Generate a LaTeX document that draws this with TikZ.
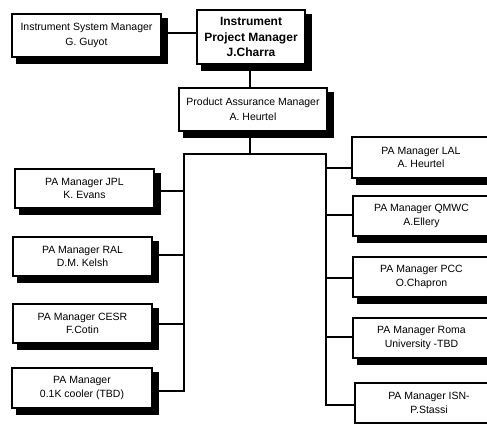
\documentclass[tikz,border=0pt]{standalone}
\usepackage{fontspec}
\setmainfont{Liberation Sans}
\usetikzlibrary{backgrounds}
\begin{document}
\begin{tikzpicture}[x=1pt,y=-1pt,
  box/.style={draw=black,line width=1.5pt,fill=white,inner sep=0pt,align=center,
    font=\fontsize{10.5}{13.5}\selectfont},
  widebox/.style={box,font=\fontsize{10.5}{15}\selectfont},
  boldbox/.style={box,font=\fontsize{12}{15.5}\selectfont\bfseries},
  shadowbox/.style={fill=black,draw=black,line width=1.5pt},
  link/.style={line width=1.6pt,line cap=rect}]
\useasboundingbox (0,0) rectangle (487,423);
\clip (0,0) rectangle (487,423);
% top row
\node[widebox,minimum width=149pt,minimum height=43pt] (ism) at (86.5,35.5) {Instrument System Manager\\G. Guyot};
\path (ism.north) ++(0,-1) coordinate (ismtop);
\node[boldbox,minimum width=108pt,minimum height=54pt] (ipm) at (251,37) {Instrument\\Project Manager\\J.Charra};
\node[widebox,minimum width=148pt,minimum height=43pt] (pam) at (253,109.5) {Product Assurance Manager\\A. Heurtel};
% left column
\node[box,minimum width=139pt,minimum height=39pt] (jpl) at (84.5,188.5) {PA Manager JPL\\K. Evans};
\node[box,minimum width=139pt,minimum height=39pt] (ral) at (82.5,256.5) {PA Manager RAL\\D.M. Kelsh};
\node[box,minimum width=139pt,minimum height=39pt] (cesr) at (82.5,323.5) {PA Manager CESR\\F.Cotin};
\node[box,minimum width=140pt,minimum height=40pt] (cool) at (82,388) {PA Manager\\0.1K cooler (TBD)};
% right column
\node[box,minimum width=138pt,minimum height=41pt] (lal) at (421,157.5) {PA Manager LAL\\A. Heurtel};
\node[box,minimum width=137pt,minimum height=40pt] (qmwc) at (421.5,216) {PA Manager QMWC\\A.Ellery};
\node[box,minimum width=137pt,minimum height=40pt] (pcc) at (421.5,277) {PA Manager PCC\\O.Chapron};
\node[box,minimum width=137pt,minimum height=40pt] (roma) at (421.5,338) {PA Manager Roma\\University -TBD};
\node[box,minimum width=148pt,minimum height=40pt] (isn) at (429,403) {PA Manager ISN-\\P.Stassi};
% shadows
\begin{scope}[on background layer]
\foreach \n in {ism,ipm,pam,jpl,ral,cesr,cool,lal,qmwc,pcc,roma,isn}
  \filldraw[shadowbox] ([xshift=5pt,yshift=-5pt]\n.south west) rectangle ([xshift=5pt,yshift=-5pt]\n.north east);
\end{scope}
% bus coordinates
\coordinate (btop) at (250,154);
\coordinate (bl) at (184,154);
\coordinate (br) at (326,154);
\coordinate (l1) at (184,191);
\coordinate (l2) at (184,255);
\coordinate (l3) at (184,324);
\coordinate (l4) at (184,391);
\coordinate (r1) at (326,168);
\coordinate (r2) at (326,215);
\coordinate (r3) at (326,278);
\coordinate (r4) at (326,337);
\coordinate (r5) at (326,405);
% connectors
\draw[link] (ism.east |- 0,33) -- (ipm.west |- 0,33);
\draw[link] (ipm.south -| 250,0) -- (pam.north -| 250,0);
\draw[link] (pam.south -| 250,0) -- (btop);
\draw[link] (bl) -- (br);
\draw[link] (bl) -- (l4);
\draw[link] (br) -- (r5);
\draw[link] (jpl.east |- l1) -- (l1);
\draw[link] (ral.east |- l2) -- (l2);
\draw[link] (cesr.east |- l3) -- (l3);
\draw[link] (cool.east |- l4) -- (l4);
\draw[link] (r1) -- (lal.west |- r1);
\draw[link] (r2) -- (qmwc.west |- r2);
\draw[link] (r3) -- (pcc.west |- r3);
\draw[link] (r4) -- (roma.west |- r4);
\draw[link] (r5) -- (isn.west |- r5);
\end{tikzpicture}
\end{document}
